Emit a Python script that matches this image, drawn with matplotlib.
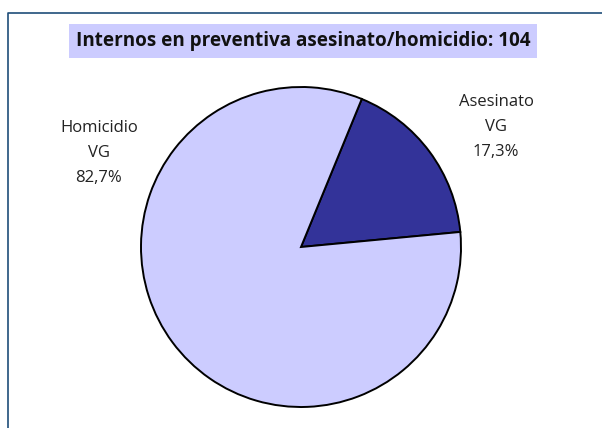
import matplotlib
matplotlib.use("Agg")
from matplotlib import pyplot as plt

# data
labels = ["Asesinato\nVG", "Homicidio\nVG"]
values = [17.3, 82.7]
pcts = ["17,3%", "82,7%"]
colors = ["#333399", "#CCCCFF"]
title = "Internos en preventiva asesinato/homicidio: 104"

W, H = 602, 428
fig = plt.figure(figsize=(W / 100, H / 100), dpi=100)
ax = fig.add_axes([0, 0, 1, 1])

# frame lines (left and top)
ax.plot([7.5, 7.5, W], [0, H - 12.5, H - 12.5], color="#1F4E79", lw=1.2)

ax.pie(values, colors=colors, startangle=5.4, counterclock=True,
       center=(301, H - 247), radius=160, frame=True,
       wedgeprops=dict(edgecolor="black", linewidth=1.4))
ax.set_xlim(0, W)
ax.set_ylim(0, H)
ax.axis("off")

font = "Open Sans"
ax.text(303, H - 41, title, ha="center", va="center", fontsize=13.6,
        fontweight="bold", family=font, color="#111111",
        bbox=dict(boxstyle="square,pad=0.36", fc="#CCCCFF", ec="none"))

ax.text(496, H - 127, labels[0] + "\n" + pcts[0], ha="center", va="center",
        fontsize=12, family=font, color="#222222", linespacing=1.75)
ax.text(99, H - 153, labels[1] + "\n" + pcts[1], ha="center", va="center",
        fontsize=12, family=font, color="#222222", linespacing=1.75)

fig.savefig("out.png", dpi=100)
